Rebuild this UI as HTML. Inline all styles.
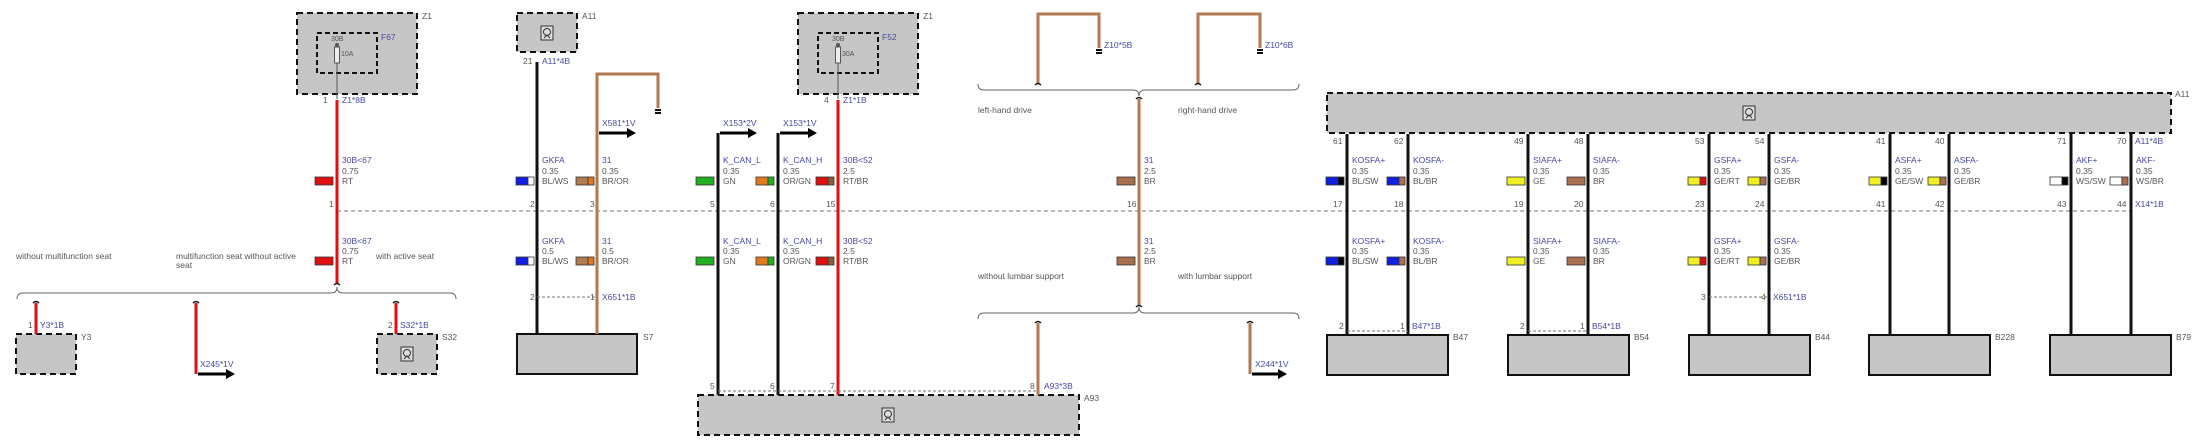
<!DOCTYPE html>
<html><head><meta charset="utf-8"><style>
html,body{margin:0;padding:0;background:#fff;width:2200px;height:448px;overflow:hidden}
svg text{font-family:"Liberation Sans",sans-serif;font-size:8.5px;fill:#555}
.b{fill:#4848a0 !important}
</style></head><body>
<svg width="2200" height="448" viewBox="0 0 2200 448" xmlns="http://www.w3.org/2000/svg">
<defs>
<g id="ico"><rect x="-6" y="-7" width="12" height="14" fill="#ddd" stroke="#333" stroke-width="1"/><circle cx="0" cy="-1" r="3.5" fill="none" stroke="#333"/><path d="M-3 5 L0 2 L3 5" fill="none" stroke="#333"/></g>
</defs>

<line x1="337" y1="211" x2="2131" y2="211" stroke="#777" stroke-width="1" stroke-dasharray="4,3"/>

<g stroke="#111" stroke-width="2" fill="#c6c6c6">
<rect x="297" y="13" width="120" height="81" stroke-dasharray="6,4"/>
<rect x="798" y="13" width="120" height="81" stroke-dasharray="6,4"/>
<rect x="517" y="13" width="60" height="39" stroke-dasharray="6,4"/>
<rect x="16" y="334" width="60" height="40" stroke-dasharray="6,4"/>
<rect x="377" y="334" width="60" height="40" stroke-dasharray="6,4"/>
<rect x="517" y="334" width="120" height="40"/>
<rect x="698" y="395" width="381" height="40" stroke-dasharray="6,4"/>
<rect x="1327" y="93" width="844" height="40" stroke-dasharray="6,4"/>
<rect x="1327" y="335" width="121" height="40"/>
<rect x="1508" y="335" width="121" height="40"/>
<rect x="1689" y="335" width="121" height="40"/>
<rect x="1869" y="335" width="121" height="40"/>
<rect x="2050" y="335" width="121" height="40"/>
</g>
<g fill="none" stroke="#111" stroke-width="2" stroke-dasharray="5,3">
<rect x="317" y="33" width="60" height="40"/>
<rect x="818" y="33" width="60" height="40"/>
</g>
<use href="#ico" x="547" y="33"/><use href="#ico" x="407" y="354"/><use href="#ico" x="888" y="415"/><use href="#ico" x="1749" y="113"/>

<g stroke="#555" stroke-width="1" fill="#eee">
<line x1="337" y1="45" x2="337" y2="99"/><rect x="334.5" y="47" width="5" height="16"/><circle cx="337" cy="45" r="1.5" fill="#555"/>
<line x1="838" y1="45" x2="838" y2="99"/><rect x="835.5" y="47" width="5" height="16"/><circle cx="838" cy="45" r="1.5" fill="#555"/>
</g>
<text x="331" y="41" style="font-size:7px">30B</text><text x="341" y="56" style="font-size:7px">10A</text>
<text x="832" y="41" style="font-size:7px">30B</text><text x="842" y="56" style="font-size:7px">30A</text>

<g stroke-width="3" fill="none">
<path d="M337 100V283" stroke="#e01010"/>
<path d="M537 62V334" stroke="#111"/>
<path d="M597 334V74H658V108" stroke="#b07a52"/>
<path d="M718 133V395" stroke="#111"/>
<path d="M778 133V395" stroke="#111"/>
<path d="M838 100V395" stroke="#e01010"/>
<path d="M1139 99V305" stroke="#b07a52"/>
<path d="M1038 83V14H1099V48" stroke="#b07a52"/>
<path d="M1198 83V14H1260V48" stroke="#b07a52"/>
<path d="M1038 323V395" stroke="#b07a52"/>
<path d="M1250 323V374" stroke="#b07a52"/>
<path d="M36 303V334" stroke="#e01010"/>
<path d="M196 303V374" stroke="#e01010"/>
<path d="M396 303V334" stroke="#e01010"/>
<g stroke="#111">
<path d="M1347 134V335"/><path d="M1408 134V335"/><path d="M1528 134V335"/><path d="M1588 134V335"/>
<path d="M1709 134V335"/><path d="M1769 134V335"/><path d="M1890 134V335"/><path d="M1949 134V335"/>
<path d="M2071 134V335"/><path d="M2131 134V335"/>
</g>
</g>
<g stroke="#111" stroke-width="2"><path d="M655 110h6M655 113h6M1096 50h6M1096 53h6M1257 50h6M1257 53h6"/></g>

<g stroke="#777" stroke-dasharray="3,2" stroke-width="1">
<line x1="537" y1="297" x2="597" y2="297"/><line x1="718" y1="391" x2="1038" y2="391"/>
<line x1="1347" y1="331" x2="1408" y2="331"/><line x1="1528" y1="331" x2="1588" y2="331"/>
<line x1="1709" y1="297" x2="1769" y2="297"/>
</g>

<!-- arrows -->
<g stroke="#000" stroke-width="3">
<line x1="599" y1="133" x2="628" y2="133"/><line x1="720" y1="133" x2="749" y2="133"/>
<line x1="780" y1="133" x2="809" y2="133"/><line x1="198" y1="374" x2="227" y2="374"/>
<line x1="1252" y1="374" x2="1279" y2="374"/>
</g>
<g fill="#000">
<path d="M627 128L636 133L627 138z"/><path d="M748 128L757 133L748 138z"/><path d="M808 128L817 133L808 138z"/>
<path d="M226 369L235 374L226 379z"/><path d="M1278 369L1287 374L1278 379z"/>
</g>

<g fill="none" stroke="#666" stroke-width="1">
<path d="M17 299Q17 293 23 293H331Q337 293 337 287Q337 293 343 293H450Q456 293 456 299"/>
<path d="M978 84Q978 90 984 90H1133Q1139 90 1139 96Q1139 90 1145 90H1293Q1299 90 1299 84"/>
<path d="M978 319Q978 313 984 313H1133Q1139 313 1139 307Q1139 313 1145 313H1293Q1299 313 1299 319"/>
</g>
<g fill="none" stroke="#111" stroke-width="1.5">
<path d="M334 285q3 -3 6 0"/><path d="M33 303q3-3 6 0"/><path d="M193 303q3-3 6 0"/><path d="M393 303q3-3 6 0"/>
<path d="M1035 85q3 -3 6 0"/><path d="M1195 85q3-3 6 0"/><path d="M1136 99q3-3 6 0"/><path d="M1136 307q3-3 6 0"/>
<path d="M1035 323q3-3 6 0"/><path d="M1247 323q3-3 6 0"/>
</g>

<g stroke="#333" stroke-width="0.8">
<rect x="315" y="177" width="18" height="8" fill="#e01010"/>
<rect x="516" y="177" width="12" height="8" fill="#1020e0"/><rect x="528" y="177" width="6" height="8" fill="#fff"/>
<rect x="576" y="177" width="12" height="8" fill="#b07a52"/><rect x="588" y="177" width="6" height="8" fill="#e07a20"/>
<rect x="696" y="177" width="18" height="8" fill="#20b020"/>
<rect x="756" y="177" width="12" height="8" fill="#e07a20"/><rect x="768" y="177" width="6" height="8" fill="#20b020"/>
<rect x="816" y="177" width="12" height="8" fill="#e01010"/><rect x="828" y="177" width="6" height="8" fill="#8a5a3a"/>
<rect x="1117" y="177" width="18" height="8" fill="#a87050"/>
<rect x="1326" y="177" width="12" height="8" fill="#1020e0"/><rect x="1338" y="177" width="6" height="8" fill="#000"/>
<rect x="1387" y="177" width="12" height="8" fill="#1020e0"/><rect x="1399" y="177" width="6" height="8" fill="#a87050"/>
<rect x="1507" y="177" width="18" height="8" fill="#f0f020"/>
<rect x="1567" y="177" width="18" height="8" fill="#a87050"/>
<rect x="1688" y="177" width="12" height="8" fill="#f0f020"/><rect x="1700" y="177" width="6" height="8" fill="#e01010"/>
<rect x="1748" y="177" width="12" height="8" fill="#f0f020"/><rect x="1760" y="177" width="6" height="8" fill="#a87050"/>
<rect x="1869" y="177" width="12" height="8" fill="#f0f020"/><rect x="1881" y="177" width="6" height="8" fill="#000"/>
<rect x="1928" y="177" width="12" height="8" fill="#f0f020"/><rect x="1940" y="177" width="6" height="8" fill="#a87050"/>
<rect x="2050" y="177" width="12" height="8" fill="#fff"/><rect x="2062" y="177" width="6" height="8" fill="#000"/>
<rect x="2110" y="177" width="12" height="8" fill="#fff"/><rect x="2122" y="177" width="6" height="8" fill="#a87050"/>
<rect x="315" y="257" width="18" height="8" fill="#e01010"/>
<rect x="516" y="257" width="12" height="8" fill="#1020e0"/><rect x="528" y="257" width="6" height="8" fill="#fff"/>
<rect x="576" y="257" width="12" height="8" fill="#b07a52"/><rect x="588" y="257" width="6" height="8" fill="#e07a20"/>
<rect x="696" y="257" width="18" height="8" fill="#20b020"/>
<rect x="756" y="257" width="12" height="8" fill="#e07a20"/><rect x="768" y="257" width="6" height="8" fill="#20b020"/>
<rect x="816" y="257" width="12" height="8" fill="#e01010"/><rect x="828" y="257" width="6" height="8" fill="#8a5a3a"/>
<rect x="1117" y="257" width="18" height="8" fill="#a87050"/>
<rect x="1326" y="257" width="12" height="8" fill="#1020e0"/><rect x="1338" y="257" width="6" height="8" fill="#000"/>
<rect x="1387" y="257" width="12" height="8" fill="#1020e0"/><rect x="1399" y="257" width="6" height="8" fill="#a87050"/>
<rect x="1507" y="257" width="18" height="8" fill="#f0f020"/>
<rect x="1567" y="257" width="18" height="8" fill="#a87050"/>
<rect x="1688" y="257" width="12" height="8" fill="#f0f020"/><rect x="1700" y="257" width="6" height="8" fill="#e01010"/>
<rect x="1748" y="257" width="12" height="8" fill="#f0f020"/><rect x="1760" y="257" width="6" height="8" fill="#a87050"/>
</g>

<text x="422" y="19">Z1</text><text x="381" y="40" class="b">F67</text><text x="323" y="103">1</text><text x="342" y="103" class="b">Z1*8B</text>
<text x="923" y="19">Z1</text><text x="882" y="40" class="b">F52</text><text x="824" y="103">4</text><text x="843" y="103" class="b">Z1*1B</text>
<text x="582" y="19">A11</text><text x="523" y="64">21</text><text x="542" y="64" class="b">A11*4B</text>
<text x="602" y="126" class="b">X581*1V</text><text x="723" y="126" class="b">X153*2V</text><text x="783" y="126" class="b">X153*1V</text>
<text x="1104" y="48" class="b">Z10*5B</text><text x="1265" y="48" class="b">Z10*6B</text>
<text x="978" y="113">left-hand drive</text><text x="1178" y="113">right-hand drive</text>
<text x="978" y="279">without lumbar support</text><text x="1178" y="279">with lumbar support</text>
<text x="16" y="259">without multifunction seat</text><text x="176" y="259">multifunction seat without active</text><text x="176" y="268">seat</text><text x="376" y="259">with active seat</text>
<text x="28" y="328">1</text><text x="40" y="328" class="b">Y3*1B</text><text x="81" y="340">Y3</text>
<text x="200" y="367" class="b">X245*1V</text>
<text x="388" y="328">2</text><text x="400" y="328" class="b">S32*1B</text><text x="442" y="340">S32</text>
<text x="530" y="300">2</text><text x="590" y="300">1</text><text x="602" y="300" class="b">X651*1B</text><text x="643" y="340">S7</text>
<text x="710" y="389">5</text><text x="770" y="389">6</text><text x="830" y="389">7</text><text x="1030" y="389">8</text><text x="1044" y="389" class="b">A93*3B</text><text x="1084" y="401">A93</text>
<text x="1255" y="367" class="b">X244*1V</text>
<text x="2175" y="97">A11</text>
<text x="1333" y="144">61</text><text x="1394" y="144">62</text><text x="1514" y="144">49</text><text x="1574" y="144">48</text>
<text x="1695" y="144">53</text><text x="1755" y="144">54</text><text x="1876" y="144">41</text><text x="1935" y="144">40</text>
<text x="2057" y="144">71</text><text x="2117" y="144">70</text><text x="2135" y="144" class="b">A11*4B</text>
<text x="329" y="207">1</text><text x="530" y="207">2</text><text x="590" y="207">3</text>
<text x="710" y="207">5</text><text x="770" y="207">6</text><text x="826" y="207">15</text><text x="1127" y="207">16</text>
<text x="1333" y="207">17</text><text x="1394" y="207">18</text><text x="1514" y="207">19</text><text x="1574" y="207">20</text>
<text x="1695" y="207">23</text><text x="1755" y="207">24</text><text x="1876" y="207">41</text><text x="1935" y="207">42</text>
<text x="2057" y="207">43</text><text x="2117" y="207">44</text><text x="2135" y="207" class="b">X14*1B</text>
<text x="1339" y="329">2</text><text x="1400" y="329">1</text><text x="1412" y="329" class="b">B47*1B</text>
<text x="1520" y="329">2</text><text x="1580" y="329">1</text><text x="1592" y="329" class="b">B54*1B</text>
<text x="1701" y="300">3</text><text x="1761" y="300">4</text><text x="1773" y="300" class="b">X651*1B</text>
<text x="1453" y="340">B47</text><text x="1634" y="340">B54</text><text x="1815" y="340">B44</text><text x="1995" y="340">B228</text><text x="2176" y="340">B79</text>

<g>
<text x="342" y="163" class="b">30B&lt;67</text><text x="342" y="174">0.75</text><text x="342" y="184">RT</text>
<text x="542" y="163" class="b">GKFA</text><text x="542" y="174">0.35</text><text x="542" y="184">BL/WS</text>
<text x="602" y="163" class="b">31</text><text x="602" y="174">0.35</text><text x="602" y="184">BR/OR</text>
<text x="723" y="163" class="b">K_CAN_L</text><text x="723" y="174">0.35</text><text x="723" y="184">GN</text>
<text x="783" y="163" class="b">K_CAN_H</text><text x="783" y="174">0.35</text><text x="783" y="184">OR/GN</text>
<text x="843" y="163" class="b">30B&lt;52</text><text x="843" y="174">2.5</text><text x="843" y="184">RT/BR</text>
<text x="1144" y="163" class="b">31</text><text x="1144" y="174">2.5</text><text x="1144" y="184">BR</text>
<text x="1352" y="163" class="b">KOSFA+</text><text x="1352" y="174">0.35</text><text x="1352" y="184">BL/SW</text>
<text x="1413" y="163" class="b">KOSFA-</text><text x="1413" y="174">0.35</text><text x="1413" y="184">BL/BR</text>
<text x="1533" y="163" class="b">SIAFA+</text><text x="1533" y="174">0.35</text><text x="1533" y="184">GE</text>
<text x="1593" y="163" class="b">SIAFA-</text><text x="1593" y="174">0.35</text><text x="1593" y="184">BR</text>
<text x="1714" y="163" class="b">GSFA+</text><text x="1714" y="174">0.35</text><text x="1714" y="184">GE/RT</text>
<text x="1774" y="163" class="b">GSFA-</text><text x="1774" y="174">0.35</text><text x="1774" y="184">GE/BR</text>
<text x="1895" y="163" class="b">ASFA+</text><text x="1895" y="174">0.35</text><text x="1895" y="184">GE/SW</text>
<text x="1954" y="163" class="b">ASFA-</text><text x="1954" y="174">0.35</text><text x="1954" y="184">GE/BR</text>
<text x="2076" y="163" class="b">AKF+</text><text x="2076" y="174">0.35</text><text x="2076" y="184">WS/SW</text>
<text x="2136" y="163" class="b">AKF-</text><text x="2136" y="174">0.35</text><text x="2136" y="184">WS/BR</text>
</g>
<g>
<text x="342" y="244" class="b">30B&lt;67</text><text x="342" y="254">0.75</text><text x="342" y="264">RT</text>
<text x="542" y="244" class="b">GKFA</text><text x="542" y="254">0.5</text><text x="542" y="264">BL/WS</text>
<text x="602" y="244" class="b">31</text><text x="602" y="254">0.5</text><text x="602" y="264">BR/OR</text>
<text x="723" y="244" class="b">K_CAN_L</text><text x="723" y="254">0.35</text><text x="723" y="264">GN</text>
<text x="783" y="244" class="b">K_CAN_H</text><text x="783" y="254">0.35</text><text x="783" y="264">OR/GN</text>
<text x="843" y="244" class="b">30B&lt;52</text><text x="843" y="254">2.5</text><text x="843" y="264">RT/BR</text>
<text x="1144" y="244" class="b">31</text><text x="1144" y="254">2.5</text><text x="1144" y="264">BR</text>
<text x="1352" y="244" class="b">KOSFA+</text><text x="1352" y="254">0.35</text><text x="1352" y="264">BL/SW</text>
<text x="1413" y="244" class="b">KOSFA-</text><text x="1413" y="254">0.35</text><text x="1413" y="264">BL/BR</text>
<text x="1533" y="244" class="b">SIAFA+</text><text x="1533" y="254">0.35</text><text x="1533" y="264">GE</text>
<text x="1593" y="244" class="b">SIAFA-</text><text x="1593" y="254">0.35</text><text x="1593" y="264">BR</text>
<text x="1714" y="244" class="b">GSFA+</text><text x="1714" y="254">0.35</text><text x="1714" y="264">GE/RT</text>
<text x="1774" y="244" class="b">GSFA-</text><text x="1774" y="254">0.35</text><text x="1774" y="264">GE/BR</text>
</g>
</svg>
</body></html>
